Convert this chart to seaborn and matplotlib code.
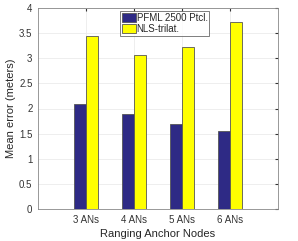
import matplotlib
matplotlib.use("Agg")
import matplotlib.pyplot as plt
import seaborn as sns
import pandas as pd

categories = ["3 ANs", "4 ANs", "5 ANs", "6 ANs"]
pfml = [2.09, 1.90, 1.70, 1.55]
nls = [3.45, 3.07, 3.22, 3.73]
series = ["PFML 2500 Ptcl.", "NLS-trilat."]

df = pd.DataFrame({
    "cat": categories * 2,
    "err": pfml + nls,
    "method": [series[0]] * 4 + [series[1]] * 4,
})

sns.set_style("whitegrid")
plt.rcParams["font.family"] = ["Liberation Sans", "DejaVu Sans"]

fig = plt.figure(figsize=(2.98, 2.41), dpi=100)
ax = fig.add_axes([38 / 298, 32 / 241, 240 / 298, 201 / 241])

sns.barplot(data=df, x="cat", y="err", hue="method", ax=ax,
            palette=["#2e2a85", "#ffff00"], width=0.52, gap=0.08,
            edgecolor="#555555", linewidth=0.6, saturation=1)

ax.set_xlim(-1, 4)
ax.set_ylim(0, 4)
ax.set_yticks([0, 0.5, 1, 1.5, 2, 2.5, 3, 3.5, 4])
ax.set_yticklabels(["0", "0.5", "1", "1.5", "2", "2.5", "3", "3.5", "4"])
ax.set_xlabel("Ranging Anchor Nodes", fontsize=8, labelpad=3)
ax.set_ylabel("Mean error (meters)", fontsize=8, labelpad=2)
ax.tick_params(axis="both", labelsize=7, direction="in", length=2,
               colors="#333333", pad=4, right=True, top=True)
ax.grid(True, color="#ebebeb", linewidth=0.6)
for s in ax.spines.values():
    s.set_visible(True)
    s.set_color("#888888")
    s.set_linewidth(0.6)

leg = ax.legend(loc="upper left", bbox_to_anchor=(82 / 240, 1 - 3 / 201),
                fontsize=7, frameon=True, fancybox=False, borderpad=0.2,
                handlelength=1.4, handleheight=1.0, handletextpad=0.1,
                labelspacing=0.1, borderaxespad=0)
leg.get_frame().set_edgecolor("#444444")
leg.get_frame().set_linewidth(0.6)

fig.savefig("out.png", dpi=100)
